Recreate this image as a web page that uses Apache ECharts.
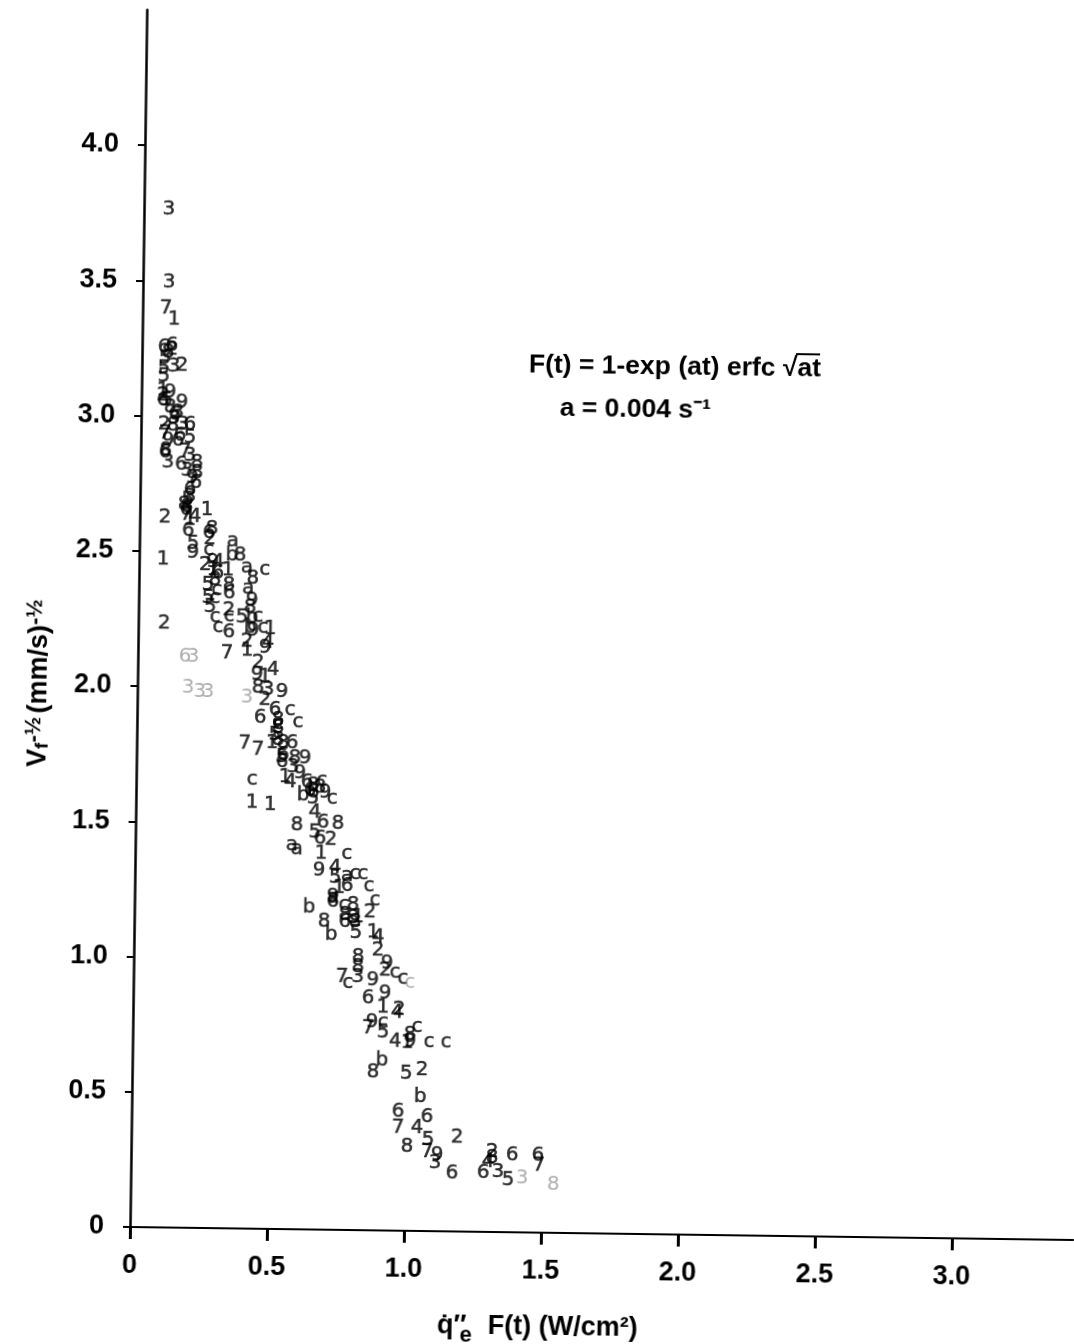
<!DOCTYPE html>
<html>
<head>
<meta charset="utf-8">
<style>
html,body{margin:0;padding:0;background:#fff;overflow:hidden;}
#chart{position:absolute;left:0;top:0;width:1074px;height:1344px;transform-origin:130px 1227px;transform:rotate(0.79deg);}
</style>
<script src="https://cdn.jsdelivr.net/npm/echarts@6/dist/echarts.min.js"></script>
</head>
<body>
<div id="chart"></div>
<script>
const xTicks = [0, 0.5, 1.0, 1.5, 2.0, 2.5, 3.0];
const yTicks = [0, 0.5, 1.0, 1.5, 2.0, 2.5, 3.0, 3.5, 4.0];

const points1 = [[.115,3.359],[.078,3.096],[.245,2.655],[.183,2.617],[.087,2.471],[.270,2.433],[.324,2.434],[.481,2.218],[.398,2.139],[.465,2.040],[.494,1.797],[.543,1.671],[.424,1.574],[.490,1.567],[.678,1.392],[.746,1.264],[.816,1.157],[.872,1.103],[.912,.826],[1.002,.694]];
const points2 = [[.109,3.248],[.146,3.186],[.084,2.970],[.092,2.627],[.257,2.548],[.094,2.235],[.330,2.286],[.397,2.169],[.439,2.095],[.466,1.955],[.714,1.441],[.860,1.177],[.891,1.037],[.918,.963],[.971,.816],[1.058,.595],[1.189,.349],[1.318,.296],[.079,3.078],[.241,2.451]];
const points3 = [[.091,3.765],[.095,3.495],[.117,3.182],[.134,3.015],[.153,2.971],[.120,2.993],[.170,2.798],[.180,2.853],[.182,2.705],[.477,1.992],[.572,1.709],[.819,.936],[1.110,.252],[1.340,.222],[.100,2.830]];
const points4 = [[.201,2.628],[.288,2.463],[.474,2.166],[.494,2.067],[.562,1.653],[.654,1.544],[.730,1.338],[.891,1.085],[.964,.805],[.958,.698],[1.042,.381],[1.303,.258]];
const points5 = [[.081,3.177],[.081,3.148],[.093,3.059],[.179,2.923],[.175,2.691],[.196,2.528],[.252,2.377],[.253,2.329],[.261,2.296],[.378,2.261],[.531,1.745],[.646,1.595],[.655,1.470],[.731,1.301],[.810,1.098],[.914,.734],[1.000,.580],[1.083,.337],[1.377,.193],[.084,3.214],[.504,1.826]];
const points6 = [[.080,3.255],[.079,3.059],[.123,3.008],[.178,2.968],[.143,2.930],[.089,2.867],[.148,2.820],[.203,2.754],[.168,2.654],[.177,2.576],[.253,2.570],[.288,2.422],[.330,2.349],[.331,2.205],[.503,1.919],[.449,1.888],[.567,1.797],[.531,1.727],[.624,1.654],[.646,1.617],[.684,1.507],[.674,1.448],[.775,1.272],[.769,1.139],[.857,.859],[.972,.439],[1.078,.422],[1.172,.216],[1.391,.286],[1.485,.287],[1.286,.218],[.109,3.263],[.135,2.912],[.182,2.728],[.535,1.753],[.635,1.625],[.724,1.212]];
const points7 = [[.085,3.399],[.088,2.937],[.162,2.868],[.169,2.635],[.325,2.127],[.395,1.795],[.443,1.770],[.761,.935],[.859,.748],[.973,.383],[1.080,.292],[1.489,.250]];
const points8 = [[.095,3.237],[.105,3.034],[.092,2.874],[.207,2.791],[.172,2.665],[.264,2.584],[.368,2.490],[.416,2.402],[.329,2.379],[.407,2.295],[.440,1.999],[.515,1.882],[.515,1.852],[.534,1.797],[.578,1.742],[.646,1.643],[.589,1.495],[.739,1.500],[.798,1.202],[.693,1.138],[.798,1.154],[.806,1.139],[.819,1.010],[.819,.973],[.879,.586],[1.012,.724],[1.007,.313],[1.318,.274],[.116,2.967],[.206,2.828],[.161,2.672],[.516,1.808],[.671,1.633],[.278,2.396],[.769,1.165]];
const points9 = [[.099,2.911],[.148,3.049],[.189,2.772],[.196,2.495],[.269,2.463],[.414,2.324],[.419,2.213],[.464,2.147],[.436,2.047],[.528,1.986],[.615,1.743],[.597,1.687],[.672,1.329],[.724,1.230],[.874,.926],[.925,.989],[.919,.878],[.873,.770],[1.012,.698],[1.117,.282],[.104,3.089],[.690,1.618]];
const pointsA = [[.341,2.541],[.394,2.446],[.399,2.368],[.572,1.420],[.590,1.406],[.774,1.309],[.724,1.227]];
const pointsB = [[.338,2.490],[.415,2.261],[.408,2.224],[.610,1.606],[.637,1.192],[.719,1.090],[.911,.630],[1.052,.495]];
const pointsC = [[.254,2.507],[.459,2.436],[.285,2.359],[.278,2.330],[.331,2.264],[.436,2.262],[.280,2.259],[.291,2.223],[.455,2.221],[.558,1.919],[.588,1.875],[.515,1.867],[.423,1.659],[.678,1.662],[.716,1.593],[.773,1.390],[.803,1.316],[.832,1.317],[.855,1.273],[.878,1.221],[.765,1.201],[.954,.953],[.984,.931],[.783,.913],[.913,.771],[1.037,.754],[1.082,.699],[1.144,.700]];
const faded3 = [[.258,1.982],[.228,1.981],[.400,1.962],[.201,2.110],[1.428,.201],[.185,1.996]];
const faded6 = [[.172,2.110]];
const faded8 = [[1.542,.180]];
const fadedC = [[1.009,.916]];

const formulaLine1 = 'F(t) = 1-exp (at) erfc √at';
const formulaLine2 = 'a = 0.004 s⁻¹';

const solid = [['1',points1],['2',points2],['3',points3],['4',points4],['5',points5],['6',points6],['7',points7],['8',points8],['9',points9],['a',pointsA],['b',pointsB],['c',pointsC]];
const faded = [['3',faded3],['6',faded6],['8',faded8],['c',fadedC]];

const BOLD = '"Liberation Sans",sans-serif';

function glyphSeries(ch, data, color, border){
  return {
    type:'scatter', name:ch, data:data, symbol:'circle', symbolSize:0, silent:true, animation:false,
    label:{show:true, position:'inside', formatter:ch, color:color, textBorderColor:color, textBorderWidth:border,
      fontFamily:'"DejaVu Sans",sans-serif', fontSize:20, fontWeight:'normal'}
  };
}

const chart = echarts.init(document.getElementById('chart'));
chart.setOption({
  animation:false,
  backgroundColor:'#fff',
  grid:{left:130, top:9.75, width:945.3, height:1217.25, outerBoundsMode:'none'},
  xAxis:{
    type:'value', min:0, max:3.45, splitLine:{show:false},
    axisLine:{show:true, onZero:false, lineStyle:{color:'#000', width:2}},
    axisTick:{show:true, inside:false, customValues:xTicks, length:12, lineStyle:{color:'#000', width:3, opacity:1}},
    axisLabel:{customValues:xTicks, margin:25, color:'#000', fontFamily:BOLD, fontWeight:'bold', fontSize:27,
      formatter:v=> v===0 ? '0' : v.toFixed(1)},
    name:'{q|q̇″} {t|F(t) (W/cm²)}',
    nameLocation:'middle', nameGap:81,
    nameTextStyle:{padding:[0,128,0,0], rich:{
      q:{fontFamily:BOLD, fontWeight:'bold', fontSize:27, color:'#000', padding:[0,18,0,0]},
      t:{fontFamily:BOLD, fontWeight:'bold', fontSize:27, color:'#000'}
    }}
  },
  yAxis:{
    type:'value', min:0, max:4.5, splitLine:{show:false},
    axisLine:{show:true, onZero:false, lineStyle:{color:'#000', width:2.5}},
    axisTick:{show:true, customValues:yTicks, length:7, lineStyle:{color:'#000', width:2}},
    axisLabel:{customValues:yTicks, margin:26, color:'#000', fontFamily:BOLD, fontWeight:'bold', fontSize:27,
      formatter:v=> v===0 ? '0' : v.toFixed(1)},
    name:'{b|V}{s|f}{u|-½} {b|(mm/s)}{u|-½}',
    nameLocation:'middle', nameGap:82, nameRotate:90,
    nameTextStyle:{padding:[0,132,0,0], rich:{
      b:{fontFamily:BOLD, fontWeight:'bold', fontSize:27, color:'#000'},
      s:{fontFamily:BOLD, fontWeight:'bold', fontSize:19, color:'#000', padding:[8,0,0,0]},
      u:{fontFamily:BOLD, fontWeight:'bold', fontSize:22, color:'#000', padding:[0,0,10,0]}
    }}
  },
  graphic:[
    {type:'text', style:{text:formulaLine1, x:663, y:360, align:'center', verticalAlign:'middle', fontFamily:BOLD, fontWeight:'bold', fontSize:26.5, fill:'#000'}},
    {type:'text', style:{text:formulaLine2, x:624, y:403, align:'center', verticalAlign:'middle', fontFamily:BOLD, fontWeight:'bold', fontSize:26.5, fill:'#000'}},
    {type:'line', shape:{x1:784, y1:345, x2:808, y2:345}, style:{stroke:'#000', lineWidth:2}},
    {type:'text', style:{text:'e', x:467, y:1331, align:'center', verticalAlign:'middle', fontFamily:BOLD, fontWeight:'bold', fontSize:22, fill:'#000'}}
  ],
  series: solid.map(s=>glyphSeries(s[0],s[1],'#000',0.5)).concat(faded.map(s=>glyphSeries(s[0],s[1],'#999',0)))
});
</script>
</body>
</html>
